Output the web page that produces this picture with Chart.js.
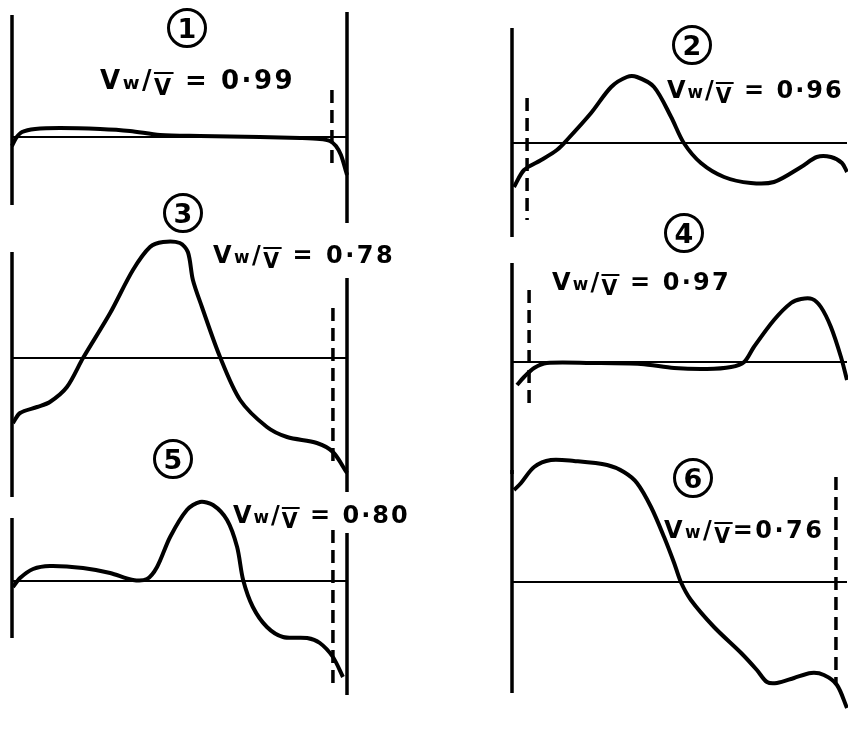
<!DOCTYPE html>
<html>
<head>
<meta charset="utf-8">
<script src="https://cdn.jsdelivr.net/npm/chart.js@4"></script>
<style>
  html, body { margin: 0; padding: 0; background: #fff; }
  body { width: 848px; height: 732px; position: relative; overflow: hidden; }
  canvas { position: absolute; }
  .num {
    position: absolute; width: 34px; height: 34px; border: 3.5px solid #000; border-radius: 50%;
    font: bold 27px "DejaVu Sans", sans-serif; text-align: center; line-height: 35px; color: #000;
  }
  .ratio {
    position: absolute; font: bold 24px "DejaVu Sans", sans-serif; white-space: nowrap; color: #000;
    line-height: 24px;
  }
  .ratio .w { font-size: 0.7em; }
  .ratio .bar { text-decoration: overline; position: relative; top: 0.25em; font-size: 0.85em; }
</style>
</head>
<body>
<script>
// velocity profiles across the channel, x = 0 (left wall) .. 1 (right wall), y = u / V
const profile1X = [0, 0.012, 0.03, 0.069, 0.143, 0.263, 0.352, 0.442, 0.561, 0.74, 0.86, 0.919, 0.949, 0.967, 0.982, 0.994, 1.0];
const profile1Y = [-0.09, -0.01, 0.05, 0.08, 0.09, 0.08, 0.06, 0.02, 0.01, 0, -0.01, -0.02, -0.04, -0.09, -0.18, -0.31, -0.38];

const profile2X = [0.006, 0.036, 0.087, 0.134, 0.164, 0.236, 0.296, 0.343, 0.373, 0.424, 0.475, 0.513, 0.564, 0.633, 0.713, 0.782, 0.863, 0.91, 0.952, 0.985, 1.0];
const profile2Y = [-0.44, -0.27, -0.17, -0.07, 0.03, 0.30, 0.56, 0.66, 0.66, 0.56, 0.26, 0, -0.20, -0.34, -0.40, -0.39, -0.24, -0.14, -0.14, -0.20, -0.29];

const profile3X = [0.003, 0.024, 0.075, 0.113, 0.164, 0.212, 0.293, 0.361, 0.412, 0.451, 0.501, 0.525, 0.54, 0.567, 0.621, 0.681, 0.761, 0.821, 0.91, 0.958, 1.0];
const profile3Y = [-0.65, -0.55, -0.49, -0.44, -0.29, 0, 0.45, 0.88, 1.11, 1.16, 1.15, 1.06, 0.78, 0.51, 0.01, -0.42, -0.69, -0.79, -0.85, -0.94, -1.15];

const profile4X = [0.015, 0.036, 0.066, 0.104, 0.236, 0.385, 0.484, 0.582, 0.654, 0.693, 0.722, 0.782, 0.833, 0.863, 0.896, 0.922, 0.952, 0.982, 1.0];
const profile4Y = [-0.23, -0.15, -0.06, -0.01, -0.01, -0.02, -0.06, -0.07, -0.05, 0, 0.15, 0.42, 0.59, 0.63, 0.63, 0.55, 0.35, 0.05, -0.18];

const profile5X = [0.003, 0.024, 0.063, 0.113, 0.212, 0.293, 0.361, 0.403, 0.433, 0.472, 0.522, 0.561, 0.6, 0.642, 0.672, 0.69, 0.719, 0.761, 0.809, 0.881, 0.919, 0.958, 0.988];
const profile5Y = [-0.06, 0.03, 0.12, 0.15, 0.13, 0.08, 0.01, 0.02, 0.14, 0.44, 0.71, 0.79, 0.76, 0.61, 0.34, 0.01, -0.26, -0.46, -0.56, -0.57, -0.62, -0.76, -0.96];

const profile6X = [0.006, 0.027, 0.066, 0.116, 0.185, 0.284, 0.334, 0.373, 0.415, 0.454, 0.484, 0.504, 0.534, 0.603, 0.684, 0.731, 0.761, 0.791, 0.842, 0.893, 0.931, 0.97, 1.0];
const profile6Y = [0.92, 0.99, 1.15, 1.22, 1.21, 1.17, 1.10, 0.99, 0.75, 0.45, 0.19, 0, -0.18, -0.45, -0.71, -0.88, -1.00, -1.01, -0.96, -0.91, -0.93, -1.03, -1.26];

const panelNumbers = ['1', '2', '3', '4', '5', '6'];
const ratioValues = ['0·99', '0·96', '0·78', '0·97', '0·80', '0·76'];

// wall extents [top, bottom] and dashed line [x, top, bottom], in the same units
const leftWalls = [[1.22, -0.68], [1.15, -0.94], [1.06, -1.39], [0.99, -1.12], [0.63, -0.57], [1.12, -1.11]];
const rightWalls = [[1.25, -0.86], null, [0.80, -1.34], null, [0.48, -1.14], null];
const dashLines = [[0.955, 0.47, -0.31], [0.045, 0.45, -0.77], [0.958, 0.50, -1.05], [0.051, 0.72, -0.46], [0.958, 0.51, -1.02], [0.967, 1.05, -1.01]];

const profiles = [
  [profile1X, profile1Y], [profile2X, profile2Y], [profile3X, profile3Y],
  [profile4X, profile4Y], [profile5X, profile5Y], [profile6X, profile6Y]
];

// page layout: left wall pixel and zero-line pixel of each panel, label [left, mid, size, spacing]
const layout = [
  { left: 12, zero: 137, num: [187, 28], label: [100, 80, 26, 2.5] },
  { left: 512, zero: 143, num: [692, 45], label: [667, 90, 24, 2] },
  { left: 12, zero: 358, num: [183, 213], label: [213, 255, 24, 2.5] },
  { left: 512, zero: 362, num: [684, 233], label: [552, 282, 24, 2.2] },
  { left: 12, zero: 581, num: [173, 459], label: [233, 515, 24, 2] },
  { left: 512, zero: 582, num: [693, 478], label: [664, 530, 24, 2.5] }
];

const PAD = 10, W = 335, PX_PER_UNIT = 100, Y_MAX = 1.45;

function seg(x0, y0, x1, y1) {
  return [{ x: x0, y: y0 }, { x: x1, y: y1 }];
}

function drawPanel(i) {
  const L = layout[i];
  const canvas = document.createElement('canvas');
  canvas.width = W + 2 * PAD;
  canvas.height = 2 * Y_MAX * PX_PER_UNIT + 2 * PAD;
  canvas.style.left = (L.left - PAD) + 'px';
  canvas.style.top = (L.zero - Y_MAX * PX_PER_UNIT - PAD) + 'px';
  document.body.appendChild(canvas);

  const [xs, ys] = profiles[i];
  const line = { borderColor: '#000', pointRadius: 0, clip: false, fill: false };
  const datasets = [
    { ...line, data: xs.map((x, k) => ({ x: x, y: ys[k] })), borderWidth: 4, tension: 0.3 },
    { ...line, data: seg(0, 0, 1, 0), borderWidth: 2 },
    { ...line, data: seg(0, leftWalls[i][0], 0, leftWalls[i][1]), borderWidth: 3.5 },
    { ...line, data: seg(dashLines[i][0], dashLines[i][1], dashLines[i][0], dashLines[i][2]), borderWidth: 3.5, borderDash: [13, 7] }
  ];
  if (rightWalls[i]) {
    datasets.push({ ...line, data: seg(1, rightWalls[i][0], 1, rightWalls[i][1]), borderWidth: 3.5 });
  }

  new Chart(canvas.getContext('2d'), {
    type: 'line',
    data: { datasets: datasets },
    options: {
      responsive: false,
      animation: false,
      layout: { padding: PAD },
      scales: {
        x: { type: 'linear', min: 0, max: 1, display: false },
        y: { min: -Y_MAX, max: Y_MAX, display: false }
      },
      plugins: { legend: { display: false }, tooltip: { enabled: false } }
    }
  });

  const num = document.createElement('div');
  num.className = 'num';
  num.textContent = panelNumbers[i];
  num.style.left = (L.num[0] - 20) + 'px';
  num.style.top = (L.num[1] - 20) + 'px';
  document.body.appendChild(num);

  const label = document.createElement('div');
  label.className = 'ratio';
  label.style.left = L.label[0] + 'px';
  label.style.top = (L.label[1] - L.label[2] / 2) + 'px';
  label.style.fontSize = L.label[2] + 'px';
  label.style.lineHeight = L.label[2] + 'px';
  label.style.letterSpacing = L.label[3] + 'px';
  const eq = i === 5 ? '=' : ' = ';
  label.innerHTML = 'V<span class="w">w</span>/<span class="bar">V</span>' + eq + ratioValues[i];
  document.body.appendChild(label);
}

for (let i = 0; i < 6; i++) drawPanel(i);
</script>
</body>
</html>
